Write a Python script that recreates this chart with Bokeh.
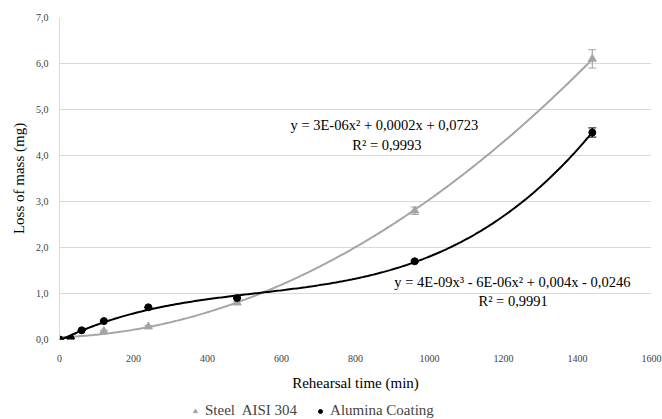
import numpy as np
from bokeh.plotting import figure
from bokeh.layouts import column
from bokeh.models import (ColumnDataSource, Whisker, Label, Legend, LegendItem,
                          FixedTicker, CustomJSTickFormatter, Range1d)
from bokeh.embed import file_html
from bokeh.resources import INLINE

# ---- data ----
steel_x = [0, 120, 240, 480, 960, 1440]
steel_y = [0.0, 0.18, 0.28, 0.80, 2.80, 6.10]
steel_err = [0.0, 0.02, 0.02, 0.03, 0.08, 0.20]
alum_x = [0, 30, 60, 120, 240, 480, 960, 1440]
alum_y = [0.0, 0.02, 0.20, 0.40, 0.70, 0.90, 1.70, 4.50]
alum_err = [0.0, 0.0, 0.0, 0.0, 0.0, 0.0, 0.02, 0.10]
x_ticks = [0, 200, 400, 600, 800, 1000, 1200, 1400, 1600]
y_ticks = [0, 1, 2, 3, 4, 5, 6, 7]
steel_label = "Steel  AISI 304"
alum_label = "Alumina Coating"
steel_eq = "y = 3E-06x² + 0,0002x + 0,0723"
steel_r2 = "R² = 0,9993"
alum_eq = "y = 4E-09x³ - 6E-06x² + 0,004x - 0,0246"
alum_r2 = "R² = 0,9991"

GRAY = "#a5a5a5"
BLACK = "#000000"
FONT = "Liberation Serif"

p = figure(width=662, height=393, output_backend="svg", toolbar_location=None,
           x_range=Range1d(0, 1600), y_range=Range1d(0, 7),
           min_border_left=59, min_border_right=11, min_border_top=17, min_border_bottom=50)
p.outline_line_color = None
p.background_fill_color = "white"

# trend lines (fitted to the data)
xs = np.linspace(0, 1440, 300)
cs = np.polyfit(steel_x, steel_y, 2)
ca = np.polyfit(alum_x, alum_y, 3)
p.line(xs, np.polyval(cs, xs), line_color=GRAY, line_width=2)
p.line(xs, np.polyval(ca, xs), line_color=BLACK, line_width=2)

# error bars
ss = ColumnDataSource(dict(x=steel_x, y=steel_y,
                           lo=[a - b for a, b in zip(steel_y, steel_err)],
                           hi=[a + b for a, b in zip(steel_y, steel_err)]))
sa = ColumnDataSource(dict(x=alum_x, y=alum_y,
                           lo=[a - b for a, b in zip(alum_y, alum_err)],
                           hi=[a + b for a, b in zip(alum_y, alum_err)]))
ws = Whisker(source=ss, base="x", lower="lo", upper="hi", line_color=GRAY, line_width=1.2)
ws.upper_head.line_color = GRAY; ws.lower_head.line_color = GRAY
ws.upper_head.size = 8; ws.lower_head.size = 8
wa = Whisker(source=sa, base="x", lower="lo", upper="hi", line_color=BLACK, line_width=1.5)
wa.upper_head.line_color = BLACK; wa.lower_head.line_color = BLACK
wa.upper_head.size = 8; wa.lower_head.size = 8
p.add_layout(ws); p.add_layout(wa)

p.scatter("x", "y", source=ss, marker="triangle", size=8, fill_color=GRAY, line_color=GRAY)
p.scatter("x", "y", source=sa, marker="circle", size=7, fill_color=BLACK, line_color=BLACK)

# equation labels
for txt, x, y in [(steel_eq, 878, 4.66), (steel_r2, 885, 4.22), (alum_eq, 1224, 1.24), (alum_r2, 1226, 0.84)]:
    p.add_layout(Label(x=x, y=y, text=txt, text_align="center", text_baseline="middle",
                       text_font=FONT, text_font_size="14.5px", text_color="#000000"))

# axes
p.xaxis.ticker = FixedTicker(ticks=x_ticks)
p.yaxis.ticker = FixedTicker(ticks=y_ticks)
p.yaxis.formatter = CustomJSTickFormatter(code="return tick.toFixed(1).replace('.', ',');")
for ax in (p.xaxis[0], p.yaxis[0]):
    ax.major_tick_line_color = None
    ax.minor_tick_line_color = None
    ax.major_label_text_font = FONT
    ax.major_label_text_font_size = "10px"
    ax.major_label_text_color = "#404040"
    ax.axis_label_text_font = FONT
    ax.axis_label_text_font_size = "15px"
    ax.axis_label_text_font_style = "normal"
    ax.axis_label_text_color = "#000000"
p.xaxis.axis_line_color = None
p.yaxis.axis_line_color = "#d9d9d9"
p.xaxis.major_label_standoff = 9
p.yaxis.major_label_standoff = 5
p.xaxis.axis_label = "Rehearsal time (min)"
p.yaxis.axis_label = "Loss of mass (mg)"
p.xaxis.axis_label_standoff = 10
p.yaxis.axis_label_standoff = 6

p.xgrid.grid_line_color = None
p.ygrid.grid_line_color = "#d9d9d9"
p.ygrid.grid_line_width = 1

# legend strip below the chart (its glyph renderers are hidden; they only supply the legend symbols)
lg = figure(width=662, height=26, output_backend="svg", toolbar_location=None,
            x_range=Range1d(0, 1), y_range=Range1d(0, 1),
            x_axis_location=None, y_axis_location=None,
            min_border_left=0, min_border_right=0, min_border_top=0, min_border_bottom=0)
lg.outline_line_color = None
lg.xgrid.visible = False
lg.ygrid.visible = False
d_s = lg.scatter(x=steel_x[:1], y=steel_y[:1], marker="triangle", size=6,
                 fill_color=GRAY, line_color=GRAY, visible=False)
d_a = lg.scatter(x=alum_x[:1], y=alum_y[:1], marker="circle", size=6,
                 fill_color=BLACK, line_color=BLACK, visible=False)
legend = Legend(items=[LegendItem(label=steel_label, renderers=[d_s]),
                       LegendItem(label=alum_label, renderers=[d_a])],
                orientation="horizontal", location=(131, 0),
                label_text_font=FONT, label_text_font_size="15px",
                border_line_color=None, background_fill_alpha=0,
                glyph_width=10, glyph_height=12, label_height=12,
                label_standoff=5, spacing=18, padding=0, margin=0)
lg.add_layout(legend, "center")

layout = column(p, lg, spacing=0)
open("out.html", "w").write(file_html(layout, INLINE))
